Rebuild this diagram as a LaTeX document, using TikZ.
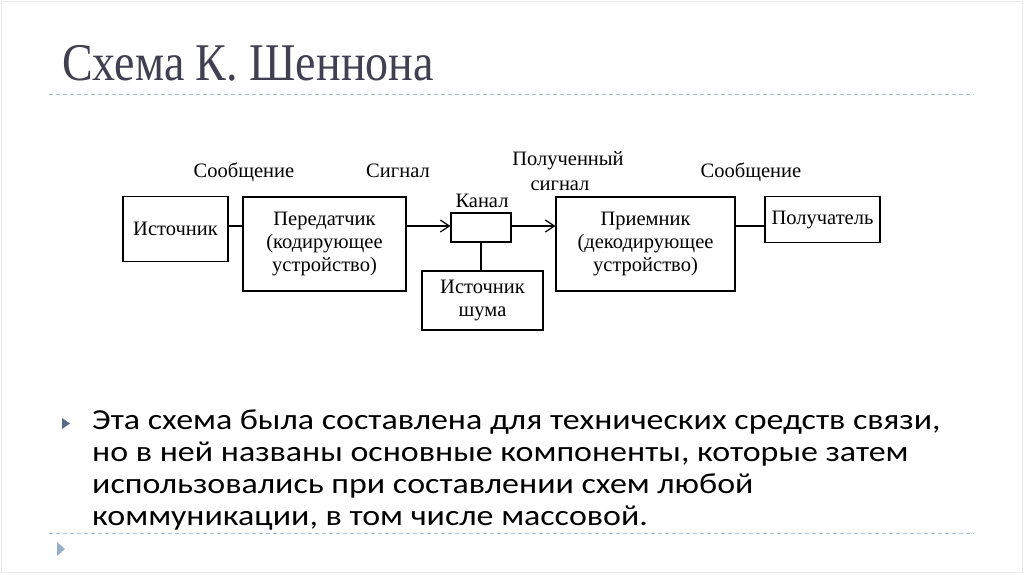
\documentclass[tikz,border=0pt]{standalone}
\usepackage{fontspec}
\setmainfont{Liberation Serif}
\newfontfamily\bodyfont{Carlito}
\newfontfamily\titlefont{Liberation Serif}
\usetikzlibrary{arrows.meta}
\definecolor{titlecol}{RGB}{64,64,82}
\definecolor{dashcol}{RGB}{170,190,205}
\definecolor{bulone}{RGB}{90,105,140}
\definecolor{bultwo}{RGB}{150,175,200}
\newcommand{\wide}[1]{\scalebox{1.17}[1]{#1}}
\begin{document}
\begin{tikzpicture}[x=1pt,y=-1pt,
 box/.style={draw, line width=1.2pt, inner sep=0pt, align=center, font=\fontsize{20.5}{23}\selectfont},
 lbl/.style={inner sep=0pt, anchor=base, font=\fontsize{20.5}{23}\selectfont},
 conn/.style={line width=1.2pt},
 arr/.style={conn, -{Straight Barb[length=9pt,width=12pt,line width=1.2pt]}},
 sep/.style={dashcol, line width=1pt, dash pattern=on 4pt off 3pt},
 bodytext/.style={anchor=base west, inner sep=0pt, font=\bodyfont\fontsize{29}{32}\selectfont}]
\useasboundingbox (0,0) rectangle (1024,574);
\fill[white] (0,0) rectangle (1024,574);
\draw[black!8, line width=0.8pt] (1.5,1.5) rectangle (1022.5,572.5);

% title
\node[anchor=base west, inner sep=0pt, text=titlecol, font=\titlefont\fontsize{53}{60}\selectfont] (title) at (62,80) {\scalebox{0.868}[1]{Схема К. Шеннона}};
\draw[sep] (49,94) -- (974,94);
\draw[sep] (49,533) -- (974,533);

% diagram
\node[box, minimum width=105pt, minimum height=65pt] (src) at (175.5,229) {Источник};
\node[box, minimum width=163pt, minimum height=94pt] (tx) at (324.5,244) {Передатчик\\(кодирующее\\устройство)};
\node[box, minimum width=60pt, minimum height=29pt] (ch) at (481,227.5) {};
\node[box, minimum width=121pt, minimum height=59pt] (noise) at (482.5,300.5) {Источник\\шума};
\node[box, minimum width=179pt, minimum height=94pt] (rx) at (645.5,244) {Приемник\\(декодирующее\\устройство)};
\node[box, minimum width=115pt, minimum height=46pt] (dst) at (822.5,219.5) {Получатель};

\coordinate (ly) at (0,226);
\draw[conn] (src.east |- ly) -- (tx.west |- ly);
\draw[arr] (tx.east |- ly) -- (ch.west |- ly);
\draw[arr] (ch.east |- ly) -- (rx.west |- ly);
\draw[conn] (rx.east |- ly) -- (dst.west |- ly);
\draw[conn] (ch.south) -- (ch.south |- noise.north);

\node[lbl] (l1) at (244,177) {Сообщение};
\node[lbl] (l2) at (398,177) {Сигнал};
\node[lbl] (l3) at (482,207) {Канал};
\node[lbl] (l4a) at (568,165) {Полученный};
\node[lbl] (l4b) at (560,190) {сигнал};
\node[lbl] (l5) at (751,177) {Сообщение};

% bullets
\fill[bulone] (62,418) -- (70,423.5) -- (62,429) -- cycle;
\fill[bultwo] (57,542) -- (65,549) -- (57,556) -- cycle;

\node[bodytext] (b1) at (92,429) {\wide{Эта схема была составлена для технических средств связи,}};
\node[bodytext] (b2) at (92,461) {\wide{но в ней названы основные компоненты, которые затем}};
\node[bodytext] (b3) at (92,493) {\wide{использовались при составлении схем любой}};
\node[bodytext] (b4) at (92,525) {\wide{коммуникации, в том числе массовой.}};
\end{tikzpicture}
\end{document}
